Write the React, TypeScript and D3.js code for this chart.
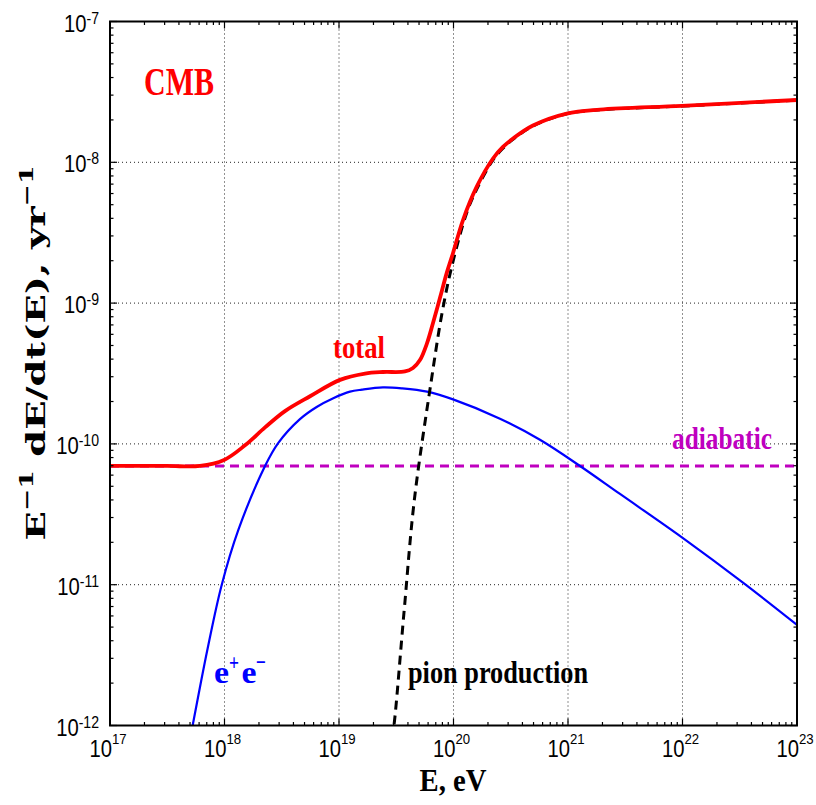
import React from "react";
import * as d3 from "d3";

// Energy-loss rates of ultra-high-energy protons on the CMB.
// Energies are stored as log10(E / eV), rates as E^-1 dE/dt in yr^-1.

const totalLgE = [17.0, 17.5, 17.786, 17.996, 18.179, 18.354, 18.528, 18.747, 19.009, 19.227, 19.384, 19.576, 19.646, 19.707, 19.769, 19.821, 19.882, 19.941, 19.996, 20.083, 20.203, 20.345, 20.432, 20.52, 20.694, 20.989, 21.279, 21.993, 23.0];
const totalRate = [6.97e-11, 6.97e-11, 6.97e-11, 7.69e-11, 9.77e-11, 1.31e-10, 1.71e-10, 2.18e-10, 2.85e-10, 3.16e-10, 3.24e-10, 3.27e-10, 3.46e-10, 3.94e-10, 5.2e-10, 7.22e-10, 1.09e-9, 1.64e-9, 2.27e-9, 3.89e-9, 6.71e-9, 1.064e-8, 1.285e-8, 1.476e-8, 1.825e-8, 2.22e-8, 2.37e-8, 2.52e-8, 2.77e-8];

const pairLgE = [17.7, 17.722, 17.85, 17.976, 18.121, 18.354, 18.467, 18.659, 18.805, 18.95, 19.096, 19.201, 19.384, 19.55, 19.769, 19.996, 20.406, 20.755, 21.105, 21.454, 21.998, 22.531, 23.0];
const pairRate = [0.8e-12, 1.0e-12, 3.44e-12, 1.0e-11, 2.45e-11, 6.97e-11, 1.01e-10, 1.5e-10, 1.83e-10, 2.11e-10, 2.35e-10, 2.43e-10, 2.52e-10, 2.48e-10, 2.35e-10, 2.07e-10, 1.51e-10, 1.07e-10, 6.97e-11, 4.41e-11, 2.16e-11, 1.03e-11, 5.18e-12];

const pionLgE = [19.46, 19.48, 19.568, 19.658, 19.803, 19.9, 19.985, 20.115, 20.203, 20.345, 20.432, 20.52, 20.694, 20.989, 21.279, 21.993, 23.0];
const pionRate = [0.8e-12, 1.0e-12, 6.4e-12, 4.0e-11, 2.71e-10, 8.5e-10, 1.82e-9, 4.37e-9, 6.45e-9, 1.04e-8, 1.26e-8, 1.455e-8, 1.81e-8, 2.21e-8, 2.357e-8, 2.51e-8, 2.76e-8];

const adiabaticLgE = [17.0, 23.0];
const adiabaticRate = [6.97e-11, 6.97e-11];

const xDecades = [17, 18, 19, 20, 21, 22, 23];
const yDecades = [-12, -11, -10, -9, -8, -7];

const W = 816;
const H = 805;
const left = 110;
const right = 797;
const top = 21.5;
const bottom = 725.5;

const x = d3.scaleLog().domain([1e17, 1e23]).range([left, right]);
const y = d3.scaleLog().domain([1e-12, 1e-7]).range([bottom, top]);

const zip = (a: number[], b: number[]) => a.map((v, i) => [v, b[i]] as [number, number]);

const line = d3
  .line<[number, number]>()
  .x((d) => x(Math.pow(10, d[0])))
  .y((d) => y(d[1]))
  .curve(d3.curveCatmullRom.alpha(0.5));

const minorX: number[] = [];
for (let d = 17; d < 23; d++) for (let k = 2; k <= 9; k++) minorX.push(k * Math.pow(10, d));
const minorY: number[] = [];
for (let d = -12; d < -7; d++) for (let k = 2; k <= 9; k++) minorY.push(k * Math.pow(10, d));

const MAJ = 7;
const MIN = 3.5;

export default function App() {
  const labelFont = "'Liberation Serif', 'Times New Roman', serif";
  const tickFont = "'Liberation Sans', Arial, sans-serif";
  return (
    <svg
      width={W}
      height={H}
      style={{ position: "absolute", left: 0, top: 0, background: "#fff" }}
    >
      <defs>
        <clipPath id="plot-area">
          <rect x={left} y={top} width={right - left} height={bottom - top} />
        </clipPath>
      </defs>

      {/* grid */}
      <g stroke="#222" strokeWidth={1} strokeDasharray="1,3">
        {xDecades.slice(1, -1).map((d) => (
          <line key={"gx" + d} x1={x(Math.pow(10, d))} x2={x(Math.pow(10, d))} y1={top} y2={bottom} />
        ))}
        {yDecades.slice(1, -1).map((d) => (
          <line key={"gy" + d} x1={left} x2={right} y1={y(Math.pow(10, d))} y2={y(Math.pow(10, d))} />
        ))}
      </g>

      {/* curves */}
      <g clipPath="url(#plot-area)" fill="none">
        <path d={line(zip(adiabaticLgE, adiabaticRate)) || ""} stroke="#bf00bf" strokeWidth={3} strokeDasharray="9,6" />
        <path d={line(zip(pairLgE, pairRate)) || ""} stroke="#0000ff" strokeWidth={2.2} />
        <path d={line(zip(pionLgE, pionRate)) || ""} stroke="#000" strokeWidth={3} strokeDasharray="9,6" />
        <path d={line(zip(totalLgE, totalRate)) || ""} stroke="#ff0000" strokeWidth={3.8} />
      </g>

      {/* ticks */}
      <g stroke="#000" strokeWidth={1.2}>
        {xDecades.map((d) => {
          const px = x(Math.pow(10, d));
          return (
            <g key={"tx" + d}>
              <line x1={px} x2={px} y1={bottom} y2={bottom - MAJ} />
              <line x1={px} x2={px} y1={top} y2={top + MAJ} />
            </g>
          );
        })}
        {minorX.map((v, i) => (
          <g key={"mx" + i}>
            <line x1={x(v)} x2={x(v)} y1={bottom} y2={bottom - MIN} />
            <line x1={x(v)} x2={x(v)} y1={top} y2={top + MIN} />
          </g>
        ))}
        {yDecades.map((d) => {
          const py = y(Math.pow(10, d));
          return (
            <g key={"ty" + d}>
              <line x1={left} x2={left + MAJ} y1={py} y2={py} />
              <line x1={right} x2={right - MAJ} y1={py} y2={py} />
            </g>
          );
        })}
        {minorY.map((v, i) => (
          <g key={"my" + i}>
            <line x1={left} x2={left + MIN} y1={y(v)} y2={y(v)} />
            <line x1={right} x2={right - MIN} y1={y(v)} y2={y(v)} />
          </g>
        ))}
      </g>

      {/* frame */}
      <rect x={left} y={top} width={right - left} height={bottom - top} fill="none" stroke="#000" strokeWidth={2} />

      {/* tick labels */}
      <g fontFamily={tickFont} fill="#000">
        {xDecades.map((d) => (
          <g key={"lx" + d} transform={`translate(${x(Math.pow(10, d)) - 2},757) scale(0.88,1)`}>
            <text x={0} y={0} textAnchor="middle" fontSize={23}>
              10
              <tspan fontSize={15} dy={-13}>{d}</tspan>
            </text>
          </g>
        ))}
        {yDecades.map((d) => (
          <g key={"ly" + d} transform={`translate(99,${y(Math.pow(10, d)) + 10}) scale(0.88,1)`}>
            <text x={0} y={0} textAnchor="end" fontSize={23}>
              10
              <tspan fontSize={16} dy={-8}>{"-" + Math.abs(d)}</tspan>
            </text>
          </g>
        ))}
      </g>

      {/* axis titles */}
      <text
        x={453}
        y={791}
        textAnchor="middle"
        fontFamily={labelFont}
        fontWeight="bold"
        fontSize={32}
        textLength={67}
        lengthAdjust="spacingAndGlyphs"
      >
        E, eV
      </text>
      <g transform="translate(45,353) rotate(-90)">
        <text
          x={0}
          y={0}
          textAnchor="middle"
          fontFamily="'DejaVu Serif', serif"
          fontWeight="bold"
          fontSize={26}
          textLength={375}
          lengthAdjust="spacingAndGlyphs"
        >
          E<tspan fontSize={18} dy={-12}>{"\u22121"}</tspan>
          <tspan dy={12}>{" dE/dt(E), yr"}</tspan>
          <tspan fontSize={18} dy={-12}>{"\u22121"}</tspan>
        </text>
      </g>

      {/* curve annotations */}
      <g fontFamily={labelFont} fontWeight="bold">
        <text x={144} y={95} fontSize={40} textLength={70} lengthAdjust="spacingAndGlyphs" fill="#ff0000">CMB</text>
        <text x={333} y={358} fontSize={32} textLength={52} lengthAdjust="spacingAndGlyphs" fill="#ff0000">total</text>
        <text x={672} y={449} fontSize={31} textLength={100} lengthAdjust="spacingAndGlyphs" fill="#bf00bf">adiabatic</text>
        <text x={408} y={683} fontSize={32} textLength={180} lengthAdjust="spacingAndGlyphs" fill="#000">pion production</text>
        <g fill="#0000ff">
          <text x={214} y={683} fontSize={32} textLength={15} lengthAdjust="spacingAndGlyphs">e</text>
          <text x={229} y={670} fontSize={24} textLength={10} lengthAdjust="spacingAndGlyphs">+</text>
          <text x={241.5} y={683} fontSize={32} textLength={15} lengthAdjust="spacingAndGlyphs">e</text>
          <text x={256} y={670} fontSize={24} textLength={10} lengthAdjust="spacingAndGlyphs">{"\u2212"}</text>
        </g>
      </g>
    </svg>
  );
}
